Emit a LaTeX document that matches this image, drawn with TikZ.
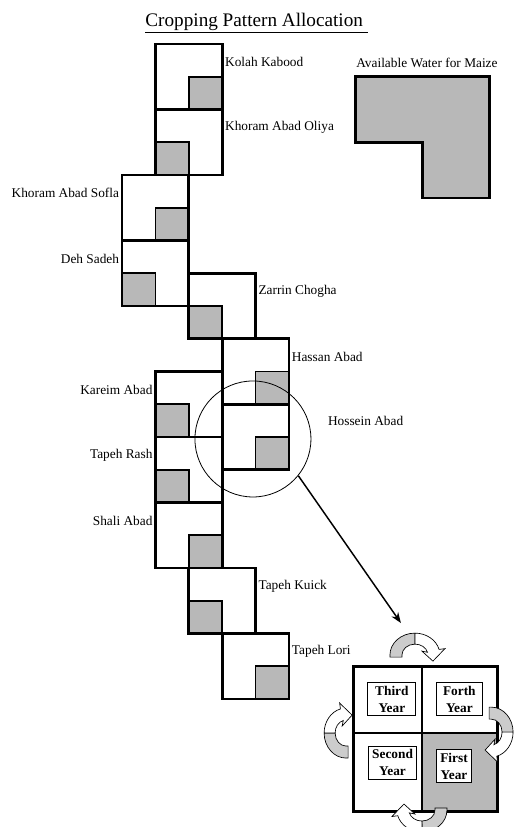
\documentclass[tikz,border=0pt]{standalone}
\usepackage{fontspec}
\setmainfont{Liberation Serif}
\usepackage{tikz}
\usetikzlibrary{arrows.meta}
\usetikzlibrary{positioning}

% block arrow turning over the top, #1 = centre, #2 = rotation
\newcommand{\turnarrow}[2]{%
  \begin{scope}[shift={#1},rotate=#2,x=0.75pt,y=0.75pt,line width=0.5pt]
    \filldraw[fill=gray!40] (-25,-2) -- (-25,0) arc[start angle=180,end angle=90,x radius=25,y radius=22]
      -- (0,11) arc[start angle=90,end angle=180,x radius=13,y radius=11] -- (-13,-2) -- cycle;
    \filldraw[fill=white] (0,22) arc[start angle=90,end angle=15,x radius=25,y radius=22]
      -- (30,6.5) -- (18,-6) -- (7,4) -- (12.6,2.85)
      arc[start angle=15,end angle=90,x radius=13,y radius=11] -- cycle;
  \end{scope}}

\begin{document}
\begin{tikzpicture}[x=25.05pt,y=24.5625pt,>=Stealth,
  font=\fontsize{10}{12}\selectfont,
  plot/.style={line width=2pt},
  water/.style={fill=black!28,line width=1.2pt},
  village/.style={inner sep=2pt},
  yearbox/.style={draw,fill=white,line width=0.75pt,align=center,
    font=\fontsize{10}{12.75}\selectfont\bfseries,inner xsep=3pt,inner ysep=2.5pt}]
  \useasboundingbox (-3.653,21.344) rectangle (11.766,-3.908);

  \node (title) at (4.03,20.64) {\fontsize{14.4}{17}\selectfont\underline{Cropping Pattern Allocation\ }};

  % available water
  \node (maize) at (9.13,19.42) {Available Water for Maize};
  \draw[plot,fill=black!28] (7,19) -- (11,19) -- (11,15.3) -- (9,15.3) -- (9,17) -- (7,17) -- cycle;

  % maize part of each field
  \filldraw[water] (2,18) rectangle (3,19);
  \filldraw[water] (1,16) rectangle (2,17);
  \filldraw[water] (1,14) rectangle (2,15);
  \filldraw[water] (0,12) rectangle (1,13);
  \filldraw[water] (2,11) rectangle (3,12);
  \filldraw[water] (4,9) rectangle (5,10);
  \filldraw[water] (4,7) rectangle (5,8);
  \filldraw[water] (1,8) rectangle (2,9);
  \filldraw[water] (1,6) rectangle (2,7);
  \filldraw[water] (2,4) rectangle (3,5);
  \filldraw[water] (2,2) rectangle (3,3);
  \filldraw[water] (4,0) rectangle (5,1);

  % fields
  \draw[plot] (1,18) rectangle (3,20);
  \draw[plot] (1,16) rectangle (3,18);
  \draw[plot] (0,14) rectangle (2,16);
  \draw[plot] (0,12) rectangle (2,14);
  \draw[plot] (2,11) rectangle (4,13);
  \draw[plot] (3,9) rectangle (5,11);
  \draw[plot] (3,7) rectangle (5,9);
  \draw[plot] (1,8) rectangle (3,10);
  \draw[plot] (1,6) rectangle (3,8);
  \draw[plot] (1,4) rectangle (3,6);
  \draw[plot] (2,2) rectangle (4,4);
  \draw[plot] (3,0) rectangle (5,2);

  % villages
  \node[village,anchor=west] (kolah) at (3,19.45) {Kolah Kabood};
  \node[village,anchor=west] (oliya) at (3,17.45) {Khoram Abad Oliya};
  \node[village,anchor=east] (sofla) at (0,15.45) {Khoram Abad Sofla};
  \node[village,anchor=east] (deh) at (0,13.45) {Deh Sadeh};
  \node[village,anchor=west] (zarrin) at (4,12.45) {Zarrin Chogha};
  \node[village,anchor=west] (hassan) at (5,10.45) {Hassan Abad};
  \node[village,anchor=west] (hossein) at (6.08,8.49) {Hossein Abad};
  \node[village,anchor=east] (kareim) at (1,9.45) {Kareim Abad};
  \node[village,anchor=east] (rash) at (1,7.45) {Tapeh Rash};
  \node[village,anchor=east] (shali) at (1,5.45) {Shali Abad};
  \node[village,anchor=west] (kuick) at (4,3.45) {Tapeh Kuick};
  \node[village,anchor=west] (lori) at (5,1.45) {Tapeh Lori};

  % zoom on one field
  \node[draw,circle,line width=0.6pt,minimum size=87pt,inner sep=0pt] (lens) at (3.92,7.94) {};
  \coordinate (tip) at (8.35,2.32);
  \draw[->,line width=1.1pt] (lens.-39) -- (tip);

  % rotation over four years
  \fill[black!28] (8.98,-1.04) rectangle (11.23,-3.42);
  \draw[line width=1.5pt] (8.98,1.0) -- (8.98,-3.42) (6.92,-1.04) -- (11.23,-1.04);
  \draw[line width=2.25pt] (6.92,1.0) rectangle (11.23,-3.42);
  \node[yearbox,minimum width=36pt] (third) at (8.08,0) {Third\\Year};
  \node[yearbox,minimum width=34pt] (forth) at (10.1,0) {Forth\\Year};
  \node[yearbox] (second) at (8.1,-1.94) {Second\\Year};
  \node[yearbox] (first) at (9.94,-2.05) {First\\Year};

  \turnarrow{(8.77,1.34)}{0}
  \turnarrow{(11.05,-1.01)}{-90}
  \turnarrow{(8.98,-3.39)}{180}
  \turnarrow{(6.71,-1.04)}{90}
\end{tikzpicture}
\end{document}
